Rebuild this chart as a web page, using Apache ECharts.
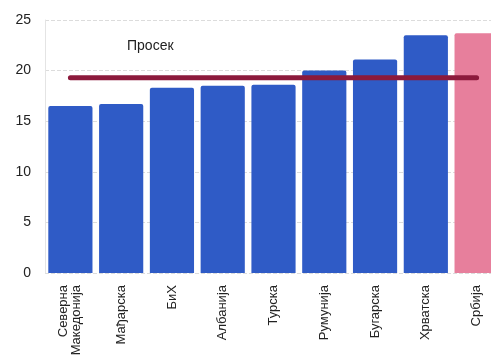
<!DOCTYPE html>
<html><head><meta charset="utf-8">
<script src="https://cdn.jsdelivr.net/npm/echarts@6/dist/echarts.min.js"></script>
<style>html,body{margin:0;padding:0;background:#fff}#c{width:491px;height:360px}</style>
</head><body><div id="c"></div>
<script>
const categories = ['Северна\nМакедонија','Мађарска','БиХ','Албанија','Турска','Румунија','Бугарска','Хрватска','Србија'];
const values = [16.5, 16.7, 18.3, 18.5, 18.6, 20.0, 21.1, 23.5, 23.7];
const average = [19.3, 19.3, 19.3, 19.3, 19.3, 19.3, 19.3, 19.3, 19.3];
const yTicks = [0, 5, 10, 15, 20, 25];
const avgLabel = 'Просек';

const chart = echarts.init(document.getElementById('c'));
chart.setOption({
  animation: false,
  grid: {left: 45, top: 20, right: -11, bottom: 87, containLabel: false, outerBoundsMode: 'none'},
  xAxis: {
    type: 'category', data: categories,
    axisLine: {show: false}, axisTick: {show: false},
    axisLabel: {rotate: 90, color: '#222', fontSize: 13, fontFamily: 'Liberation Sans, Arial', margin: 12, lineHeight: 13, interval: 0}
  },
  yAxis: {
    type: 'value', min: 0, max: 25, interval: 5,
    axisLine: {show: true, lineStyle: {color: '#e4e4e4'}},
    axisTick: {show: false},
    axisLabel: {color: '#222', fontSize: 14, fontFamily: 'Liberation Sans, Arial', margin: 14,
      formatter: v => yTicks.includes(v) ? String(v) : ''},
    splitLine: {show: true, lineStyle: {color: '#dcdcdc', type: 'dashed'}}
  },
  graphic: [{type: 'text', left: 127, top: 39, style: {text: avgLabel, fontSize: 14, fontFamily: 'Liberation Sans, Arial', fill: '#222'}}],
  series: [
    {type: 'bar', data: values.map((v, i) => ({value: v, itemStyle: {color: i === values.length - 1 ? '#E77F9C' : '#2F5BC6'}})),
      barCategoryGap: '13%', itemStyle: {borderRadius: [2, 2, 0, 0]}, z: 2},
    {type: 'line', data: average, showSymbol: false, symbol: 'none',
      lineStyle: {color: '#8C1A3C', width: 5, cap: 'round'}, z: 5}
  ]
});
</script></body></html>
